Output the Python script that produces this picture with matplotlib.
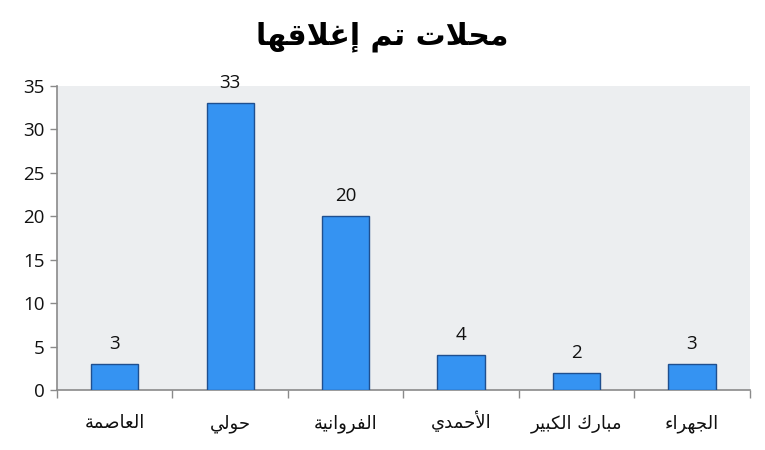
import matplotlib
matplotlib.use("Agg")
import matplotlib.pyplot as plt
import numpy as np

# data
title = "محلات تم إغلاقها"
categories = ["العاصمة", "حولي", "الفروانية", "الأحمدي", "مبارك الكبير", "الجهراء"]
values = [3, 33, 20, 4, 2, 3]
y_ticks = [0, 5, 10, 15, 20, 25, 30, 35]

# minimal arabic shaping (matplotlib has no complex text layout)
FORMS = {'ا': (0xFE8D, 2), 'أ': (0xFE83, 2), 'إ': (0xFE87, 2), 'ء': (0xFE80, 1),
         'ب': (0xFE8F, 4), 'ة': (0xFE93, 2), 'ت': (0xFE95, 4), 'ج': (0xFE9D, 4),
         'ح': (0xFEA1, 4), 'د': (0xFEA9, 2), 'ر': (0xFEAD, 2), 'ص': (0xFEB9, 4),
         'ع': (0xFEC9, 4), 'غ': (0xFECD, 4), 'ف': (0xFED1, 4), 'ق': (0xFED5, 4),
         'ك': (0xFED9, 4), 'ل': (0xFEDD, 4), 'م': (0xFEE1, 4), 'ن': (0xFEE5, 4),
         'ه': (0xFEE9, 4), 'و': (0xFEED, 2), 'ي': (0xFEF1, 4)}
LAM_ALEF = {'ا': 0xFEFB, 'أ': 0xFEF7, 'إ': 0xFEF9}


def shape(s):
    tokens = []
    i = 0
    while i < len(s):
        c = s[i]
        if c == 'ل' and i + 1 < len(s) and s[i + 1] in LAM_ALEF:
            tokens.append(('LA', LAM_ALEF[s[i + 1]]))
            i += 2
        else:
            tokens.append(c)
            i += 1
    out = []
    for k, t in enumerate(tokens):
        prev = tokens[k - 1] if k > 0 else None
        nxt = tokens[k + 1] if k + 1 < len(tokens) else None
        joins_prev = isinstance(prev, str) and prev in FORMS and FORMS[prev][1] == 4
        if isinstance(t, tuple):
            out.append(chr(t[1] + (1 if joins_prev else 0)))
            continue
        if t not in FORMS:
            out.append(t)
            continue
        base, n = FORMS[t]
        joins_next = n == 4 and nxt is not None and (
            isinstance(nxt, tuple) or (nxt in FORMS and FORMS[nxt][1] != 1))
        if n == 1:
            off = 0
        elif joins_prev and joins_next:
            off = 3
        elif joins_next:
            off = 2
        elif joins_prev:
            off = 1
        else:
            off = 0
        out.append(chr(base + off))
    return ''.join(reversed(out))


fig = plt.figure(figsize=(7.65, 4.5), dpi=100)
ax = fig.add_axes([0.0745, 0.1333, 0.9055, 0.6757])
ax.set_facecolor("#eceef0")

x = np.arange(len(categories))
bars = ax.bar(x, values, width=0.41, color="#3593f2", edgecolor="#1f4f8f", linewidth=1.0, zorder=3)
for xi, v in zip(x, values):
    ax.annotate(str(v), (xi, v), xytext=(0, 8), textcoords="offset points",
                ha="center", va="bottom", fontsize=13.5, family="Open Sans", color="#111111")

ax.set_xlim(-0.5, len(categories) - 0.5)
ax.set_ylim(0, 35)
ax.set_yticks(y_ticks)
ax.set_yticklabels([str(t) for t in y_ticks], fontsize=13.5, family="Open Sans", color="#111111")

# tick marks sit between categories, labels centred under bars
ax.set_xticks(np.arange(-0.5, len(categories)))
ax.set_xticklabels([])
for xi, c in zip(x, categories):
    ax.text(xi, -0.125, shape(c), transform=ax.get_xaxis_transform(), ha="center",
            va="baseline", fontsize=13, family="DejaVu Sans", color="#111111")
ax.tick_params(axis="x", length=6, color="#8a8a8a", width=1)
ax.tick_params(axis="y", length=5, color="#8a8a8a", width=1, pad=4)

for side in ["top", "right"]:
    ax.spines[side].set_visible(False)
for side in ["left", "bottom"]:
    ax.spines[side].set_color("#8a8a8a")
    ax.spines[side].set_linewidth(1.2)

fig.text(0.5, 0.918, shape(title), ha="center", va="center", fontsize=21.5,
         fontweight="bold", family="DejaVu Sans", color="#000000")

fig.savefig("out.png", dpi=100)
